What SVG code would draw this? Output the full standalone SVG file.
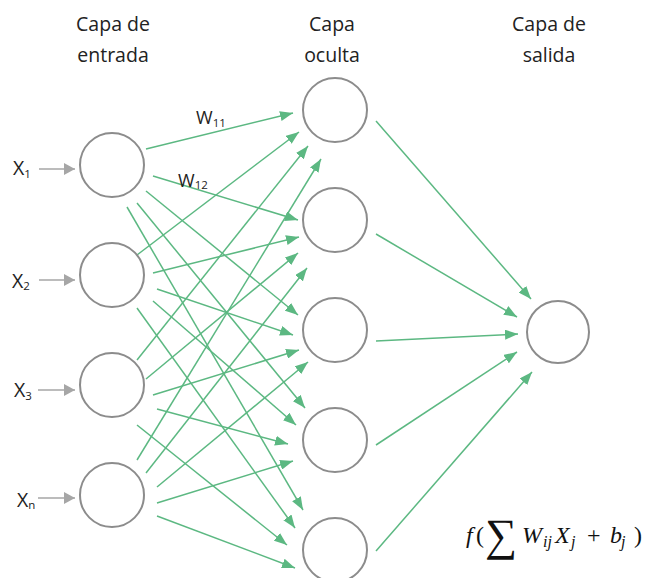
<svg xmlns="http://www.w3.org/2000/svg" width="645" height="578" viewBox="0 0 645 578">
<style>
.node{fill:#fff;stroke:#8c8c8c;stroke-width:2}
.e{stroke:#5cb882;stroke-width:1.5;fill:none;marker-end:url(#ag)}
.in{stroke:#a6a6a6;stroke-width:1.5;fill:none;marker-end:url(#agray)}
.h{font-family:"Open Sans","Noto Sans",sans-serif;font-size:19.5px;fill:#222;text-anchor:middle}
.lab{font-family:"Open Sans","Noto Sans",sans-serif;font-size:19.5px;fill:#222}
.sub{font-size:11.5px}
.w{font-family:"Open Sans","Noto Sans",sans-serif;font-size:18px;fill:#222}
.m{font-family:"Liberation Serif","DejaVu Serif",serif;font-size:24px;fill:#111}
.mi{font-style:italic}
</style>
<defs>
<marker id="ag" markerWidth="13" markerHeight="10" refX="13" refY="5" orient="auto" markerUnits="userSpaceOnUse"><path d="M0,0 L13,5 L0,10 z" fill="#5cb882"/></marker>
<marker id="agray" markerWidth="11" markerHeight="12" refX="11" refY="6" orient="auto" markerUnits="userSpaceOnUse"><path d="M0,0 L11,6 L0,12 z" fill="#a6a6a6"/></marker>
</defs>
<rect width="645" height="578" fill="#fff"/>
<g id="headers">
<text class="h" x="113" y="31">Capa de</text>
<text class="h" x="113" y="62">entrada</text>
<text class="h" x="332" y="31">Capa</text>
<text class="h" x="332" y="62">oculta</text>
<text class="h" x="549" y="31">Capa de</text>
<text class="h" x="549" y="62">salida</text>
</g>
<g id="connectors">
<line class="in" x1="39" y1="169" x2="75" y2="169"/>
<line class="in" x1="39" y1="280" x2="75" y2="280"/>
<line class="in" x1="38" y1="390" x2="75" y2="390"/>
<line class="in" x1="38" y1="498" x2="75" y2="498"/>
<line class="e" x1="146" y1="149" x2="293" y2="113"/>
<line class="e" x1="153" y1="176" x2="298" y2="220"/>
<line class="e" x1="146" y1="191" x2="298" y2="315"/>
<line class="e" x1="137" y1="203" x2="305" y2="408"/>
<line class="e" x1="127" y1="207" x2="303" y2="510"/>
<line class="e" x1="137" y1="255" x2="299" y2="132"/>
<line class="e" x1="153" y1="273" x2="299" y2="237"/>
<line class="e" x1="157" y1="289" x2="293" y2="335"/>
<line class="e" x1="153" y1="301" x2="296" y2="425"/>
<line class="e" x1="137" y1="308" x2="295" y2="528"/>
<line class="e" x1="137" y1="360" x2="308" y2="146"/>
<line class="e" x1="146" y1="379" x2="298" y2="253"/>
<line class="e" x1="153" y1="395" x2="299" y2="350"/>
<line class="e" x1="157" y1="409" x2="288" y2="444"/>
<line class="e" x1="137" y1="425" x2="287" y2="545"/>
<line class="e" x1="137" y1="460" x2="321" y2="159"/>
<line class="e" x1="146" y1="473" x2="307" y2="268"/>
<line class="e" x1="157" y1="487" x2="308" y2="362"/>
<line class="e" x1="157" y1="503" x2="293" y2="461"/>
<line class="e" x1="157" y1="516" x2="295" y2="568"/>
<line class="e" x1="376" y1="121" x2="531" y2="299"/>
<line class="e" x1="376" y1="234" x2="517" y2="317"/>
<line class="e" x1="376" y1="341" x2="518" y2="334"/>
<line class="e" x1="376" y1="445" x2="517" y2="352"/>
<line class="e" x1="376" y1="551" x2="532" y2="372"/>
</g>
<g id="labels">
<text class="w" x="196" y="124">W<tspan class="sub" dy="3">11</tspan></text>
<text class="w" x="178" y="187">W<tspan class="sub" dy="2">12</tspan></text>
</g>
<g id="x1"><circle class="node" cx="112" cy="165" r="32"/><text class="lab" x="13" y="175">X<tspan class="sub" dy="3">1</tspan></text></g>
<g id="x2"><circle class="node" cx="112" cy="275" r="32"/><text class="lab" x="12" y="288">X<tspan class="sub" dy="2">2</tspan></text></g>
<g id="x3"><circle class="node" cx="112" cy="385" r="32"/><text class="lab" x="14" y="397">X<tspan class="sub" dy="3">3</tspan></text></g>
<g id="xn"><circle class="node" cx="112" cy="495" r="32"/><text class="lab" x="17" y="507">X<tspan class="sub" dy="2">n</tspan></text></g>
<g id="h1"><circle class="node" cx="335" cy="110" r="32"/></g>
<g id="h2"><circle class="node" cx="335" cy="220" r="32"/></g>
<g id="h3"><circle class="node" cx="335" cy="330" r="32"/></g>
<g id="h4"><circle class="node" cx="335" cy="440" r="32"/></g>
<g id="h5"><circle class="node" cx="335" cy="550" r="32"/></g>
<g id="out"><circle class="node" cx="558" cy="332" r="31"/></g>
<g id="formula">
<text class="m mi" x="466" y="543">f</text>
<text class="m" x="476" y="543">(</text>
<text class="m" x="485" y="550" style="font-size:45px">∑</text>
<text class="m mi" x="522" y="543">W</text>
<text class="m mi" x="543" y="547" style="font-size:16px">ij</text>
<text class="m mi" x="555" y="543">X</text>
<text class="m mi" x="571" y="547" style="font-size:16px">j</text>
<text class="m" x="587" y="543">+</text>
<text class="m mi" x="610" y="543">b</text>
<text class="m mi" x="621" y="547" style="font-size:16px">j</text>
<text class="m" x="634" y="543">)</text>
</g>
</svg>
